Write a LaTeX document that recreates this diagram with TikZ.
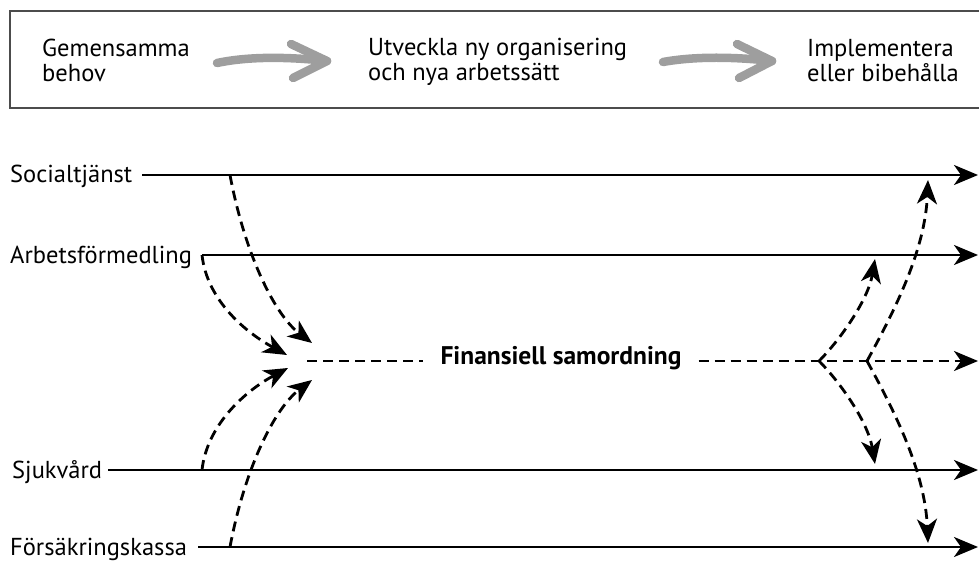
\documentclass[tikz,border=0pt]{standalone}
\usepackage{fontspec}
\setmainfont{PT Sans}
\usetikzlibrary{arrows.meta}
\begin{document}
\begin{tikzpicture}[x=1pt,y=-1pt,
  txt/.style={inner sep=0pt,font=\fontsize{24.5}{25}\selectfont,align=left},
  track/.style={line width=2.8pt,-{Stealth[length=24pt,width=20pt,inset=7pt]}},
  flow/.style={line width=2.8pt,dash pattern=on 10pt off 6pt,-{Stealth[length=24pt,width=20pt,inset=7pt]}},
  fund/.style={line width=2.8pt,dash pattern=on 10pt off 6pt},
  phase/.style={line width=8.5pt,draw=black!38,line cap=round,line join=round}]
\useasboundingbox (0,0) rectangle (979,561);

% process box (open to the right)
\draw[line width=1.8pt,draw=black!70] (995,11) -- (10,11) -- (10,108) -- (995,108);

% phases (base anchor sits on the last line)
\node[txt,anchor=base west] (p1) at (42,82) {Gemensamma\\behov};
\node[txt,anchor=base west] (p2) at (368,81) {Utveckla ny organisering\\och nya arbetssätt};
\node[txt,anchor=base west] (p3) at (807,82) {Implementera\\eller bibehålla};

% grey arrows between phases
\coordinate (g1a) at (217,63); \coordinate (g1b) at (327,61);
\coordinate (g2a) at (663,62); \coordinate (g2b) at (772,61);
\draw[phase] (g1a) .. controls (250,56) and (290,57) .. (g1b);
\draw[phase] (291,44) -- (g1b) -- (293,78);
\draw[phase] (g2a) .. controls (696,56) and (736,57) .. (g2b);
\draw[phase] (737,44) -- (g2b) -- (739,78);

% actors
\node[txt,anchor=base west] (soc) at (10,183) {Socialtjänst};
\node[txt,anchor=base west] (arb) at (10,263) {Arbetsförmedling};
\node[txt,anchor=base west] (sjv) at (12,478) {Sjukvård};
\node[txt,anchor=base west] (fk)  at (10,555) {Försäkringskassa};

\coordinate (soc0) at (142,175); \coordinate (soc1) at (978,175);
\coordinate (arb0) at (202,255); \coordinate (arb1) at (978,255);
\coordinate (sjv0) at (108,470); \coordinate (sjv1) at (978,470);
\coordinate (fk0)  at (198,547); \coordinate (fk1)  at (978,547);

\draw[track] (soc0) -- (soc1);
\draw[track] (arb0) -- (arb1);
\draw[track] (sjv0) -- (sjv1);
\draw[track] (fk0)  -- (fk1);

% financial coordination
\node[txt,font=\fontsize{25.5}{25}\selectfont\bfseries,inner xsep=17pt,anchor=base] (fin) at (561,364) {Finansiell samordning};
\coordinate (hub) at (307,361);
\coordinate (fin1) at (978,361);
\coordinate (r1) at (819,361);
\coordinate (r2) at (867,361);
\draw[fund] (hub) -- (fin.west |- hub);
\draw[flow] (fin.east |- hub) -- (fin1);

% resources joining
\coordinate (socx) at (230,175);
\coordinate (sjvx) at (202,470);
\coordinate (fkx)  at (230,547);
\coordinate (a1) at (312,343);
\coordinate (b1) at (287,355);
\coordinate (c1) at (288,368);
\coordinate (d1) at (312,380);
\draw[flow] (socx) .. controls (245,255) and (275,315) .. (a1);
\draw[flow] (arb0) .. controls (207,300) and (245,332) .. (b1);
\draw[flow] (sjvx) .. controls (207,425) and (245,391) .. (c1);
\draw[flow] (fkx)  .. controls (245,467) and (275,408) .. (d1);

% resources returning
\coordinate (e1) at (875,259);
\coordinate (f1) at (928,180);
\coordinate (g1) at (875,464);
\coordinate (h1) at (928,543);
\draw[flow] (r1) .. controls (840,340) and (868,300) .. (e1);
\draw[flow] (r2) .. controls (895,310) and (925,250) .. (f1);
\draw[flow] (r1) .. controls (840,382) and (868,422) .. (g1);
\draw[flow] (r2) .. controls (895,412) and (925,472) .. (h1);
\end{tikzpicture}
\end{document}
